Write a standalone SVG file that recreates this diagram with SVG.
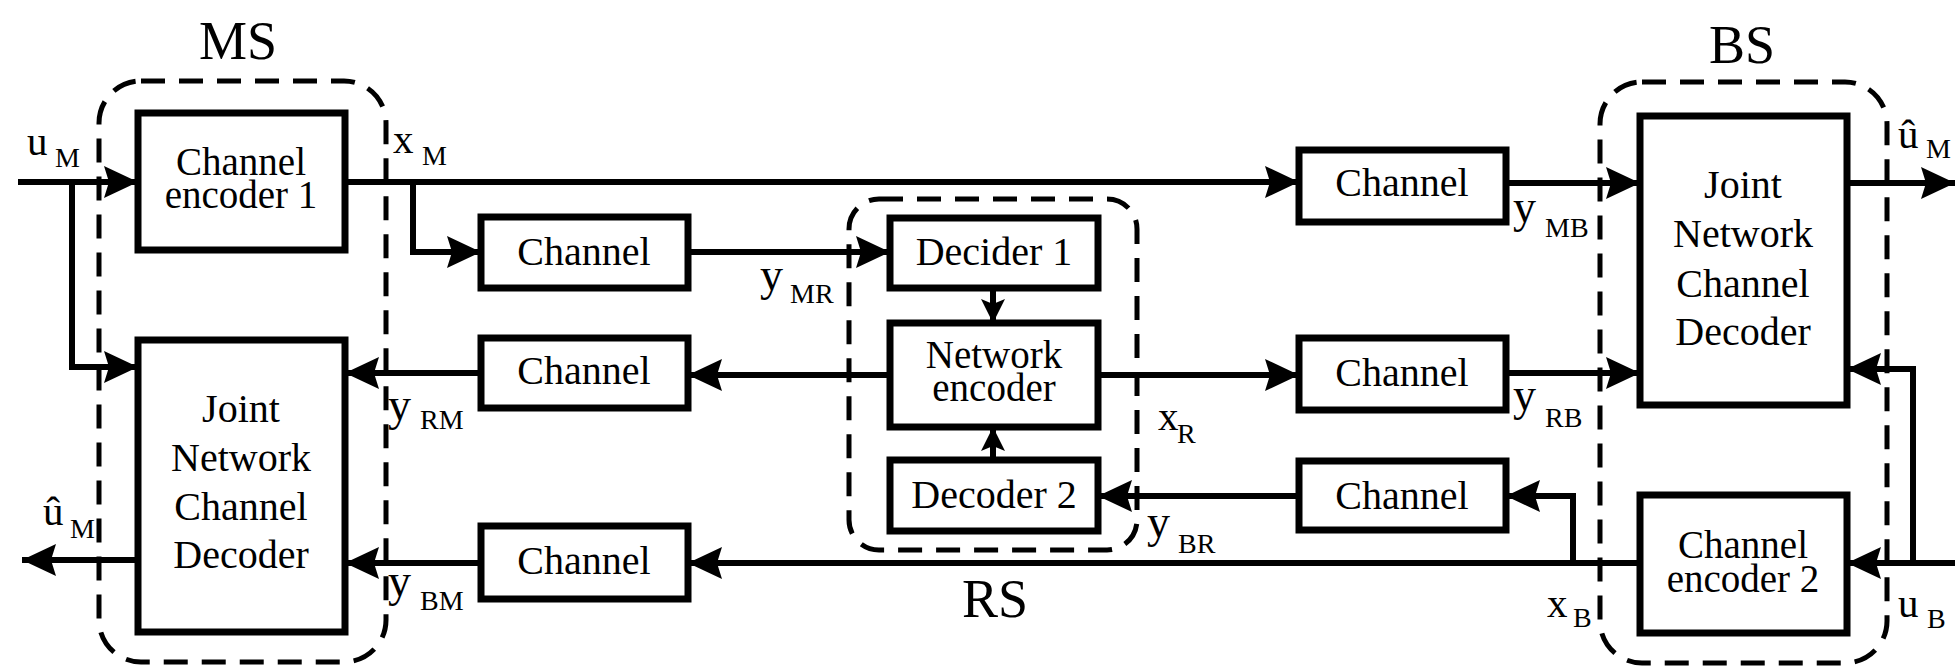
<svg xmlns="http://www.w3.org/2000/svg" width="1955" height="669" viewBox="0 0 1955 669">
<style>
.box{fill:#fff;stroke:#000;stroke-width:7}
.grp{fill:none;stroke:#000;stroke-width:5;stroke-dasharray:24 14}
.t{font-size:40px;fill:#000;text-anchor:middle}
.t2{font-size:39px;fill:#000;text-anchor:middle}
.lab{font-size:54px;fill:#000;text-anchor:middle}
.v{font-size:41px;fill:#000}
.vy{font-size:46px;fill:#000}
.s{font-size:28px;fill:#000}
.c{fill:none;stroke:#000;stroke-width:6}
</style>
<defs>
<marker id="ah" markerUnits="userSpaceOnUse" markerWidth="34" markerHeight="32" refX="34" refY="16" orient="auto">
<path d="M0,0 L34,16 L0,32 L5,16 z" fill="#000"/>
</marker>
<marker id="ahs" markerUnits="userSpaceOnUse" markerWidth="24" markerHeight="24" refX="24" refY="12" orient="auto">
<path d="M0,0 L24,12 L0,24 L5,12 z" fill="#000"/>
</marker>
</defs>

<g font-family="Liberation Serif, Tinos, DejaVu Serif, Times New Roman, serif">
<g id="groups">
<rect id="MS-group" class="grp" x="99" y="81" width="287" height="581" rx="42"/>
<rect id="RS-group" class="grp" x="849" y="199" width="288" height="351" rx="30"/>
<rect id="BS-group" class="grp" x="1600" y="82" width="287" height="581" rx="42"/>
<text class="lab" x="238" y="59">MS</text>
<text class="lab" x="995" y="617">RS</text>
<text class="lab" x="1742" y="63">BS</text>
</g>

<g id="connectors">
<path class="c" d="M18,182 H138" marker-end="url(#ah)"/>
<path class="c" d="M72,182 V367 H138" marker-end="url(#ah)"/>
<path class="c" d="M345,182 H1299" marker-end="url(#ah)"/>
<path class="c" d="M413,182 V252 H481" marker-end="url(#ah)"/>
<path class="c" d="M688,252 H890" marker-end="url(#ah)"/>
<path class="c" d="M993,288 V323" marker-end="url(#ahs)"/>
<path class="c" d="M993,460 V427" marker-end="url(#ahs)"/>
<path class="c" d="M890,375 H688" marker-end="url(#ah)"/>
<path class="c" d="M481,373 H345" marker-end="url(#ah)"/>
<path class="c" d="M1098,375 H1299" marker-end="url(#ah)"/>
<path class="c" d="M1506,373 H1640" marker-end="url(#ah)"/>
<path class="c" d="M1506,183 H1640" marker-end="url(#ah)"/>
<path class="c" d="M1847,183 H1955" marker-end="url(#ah)"/>
<path class="c" d="M1955,563 H1847" marker-end="url(#ah)"/>
<path class="c" d="M1913,563 V369 H1847" marker-end="url(#ah)"/>
<path class="c" d="M1640,563 H688" marker-end="url(#ah)"/>
<path class="c" d="M1573,563 V496 H1506" marker-end="url(#ah)"/>
<path class="c" d="M1299,496 H1098" marker-end="url(#ah)"/>
<path class="c" d="M481,563 H345" marker-end="url(#ah)"/>
<path class="c" d="M138,560 H22" marker-end="url(#ah)"/>
</g>

<g id="labels">
<text class="v" x="27" y="155">u</text><text class="s" x="55" y="167">M</text>
<text class="v" x="393" y="153">x</text><text class="s" x="422" y="165">M</text>
<text class="vy" x="760" y="290">y</text><text class="s" x="790" y="303">MR</text>
<text class="vy" x="388" y="420">y</text><text class="s" x="420" y="429">RM</text>
<text class="vy" x="388" y="596">y</text><text class="s" x="420" y="610">BM</text>
<text class="v" x="43" y="525">û</text><text class="s" x="70" y="538">M</text>
<text class="v" x="1158" y="430">x</text><text class="s" x="1177" y="443">R</text>
<text class="vy" x="1147" y="537">y</text><text class="s" x="1178" y="553">BR</text>
<text class="vy" x="1513" y="222">y</text><text class="s" x="1545" y="237">MB</text>
<text class="vy" x="1513" y="410">y</text><text class="s" x="1545" y="427">RB</text>
<text class="v" x="1547" y="617">x</text><text class="s" x="1573" y="627">B</text>
<text class="v" x="1898" y="617">u</text><text class="s" x="1927" y="628">B</text>
<text class="v" x="1898" y="148">û</text><text class="s" x="1926" y="158">M</text>
</g>

<g id="channel-encoder-1">
<rect class="box" x="138" y="113" width="207" height="137"/>
<text class="t2" x="241" y="175">Channel</text>
<text class="t2" x="241" y="208">encoder 1</text>
</g>
<g id="joint-decoder-ms">
<rect class="box" x="138" y="340" width="207" height="292"/>
<text class="t" x="241" y="422">Joint</text>
<text class="t" x="241" y="471">Network</text>
<text class="t" x="241" y="520">Channel</text>
<text class="t" x="241" y="568">Decoder</text>
</g>
<g id="channel-mr">
<rect class="box" x="481" y="217" width="207" height="71"/>
<text class="t" x="584" y="265">Channel</text>
</g>
<g id="channel-rm">
<rect class="box" x="481" y="338" width="207" height="70"/>
<text class="t" x="584" y="384">Channel</text>
</g>
<g id="channel-bm">
<rect class="box" x="481" y="526" width="207" height="73"/>
<text class="t" x="584" y="574">Channel</text>
</g>
<g id="decider-1">
<rect class="box" x="890" y="218" width="208" height="70"/>
<text class="t" x="994" y="265">Decider 1</text>
</g>
<g id="network-encoder">
<rect class="box" x="890" y="323" width="208" height="104"/>
<text class="t2" x="994" y="368">Network</text>
<text class="t2" x="994" y="401">encoder</text>
</g>
<g id="decoder-2">
<rect class="box" x="890" y="460" width="208" height="71"/>
<text class="t" x="994" y="508">Decoder 2</text>
</g>
<g id="channel-mb">
<rect class="box" x="1299" y="150" width="207" height="72"/>
<text class="t" x="1402" y="196">Channel</text>
</g>
<g id="channel-rb">
<rect class="box" x="1299" y="338" width="207" height="72"/>
<text class="t" x="1402" y="386">Channel</text>
</g>
<g id="channel-br">
<rect class="box" x="1299" y="461" width="207" height="69"/>
<text class="t" x="1402" y="509">Channel</text>
</g>
<g id="joint-decoder-bs">
<rect class="box" x="1640" y="116" width="207" height="289"/>
<text class="t" x="1743" y="198">Joint</text>
<text class="t" x="1743" y="247">Network</text>
<text class="t" x="1743" y="297">Channel</text>
<text class="t" x="1743" y="345">Decoder</text>
</g>
<g id="channel-encoder-2">
<rect class="box" x="1640" y="495" width="207" height="138"/>
<text class="t2" x="1743" y="558">Channel</text>
<text class="t2" x="1743" y="592">encoder 2</text>
</g>
</g>
</svg>
